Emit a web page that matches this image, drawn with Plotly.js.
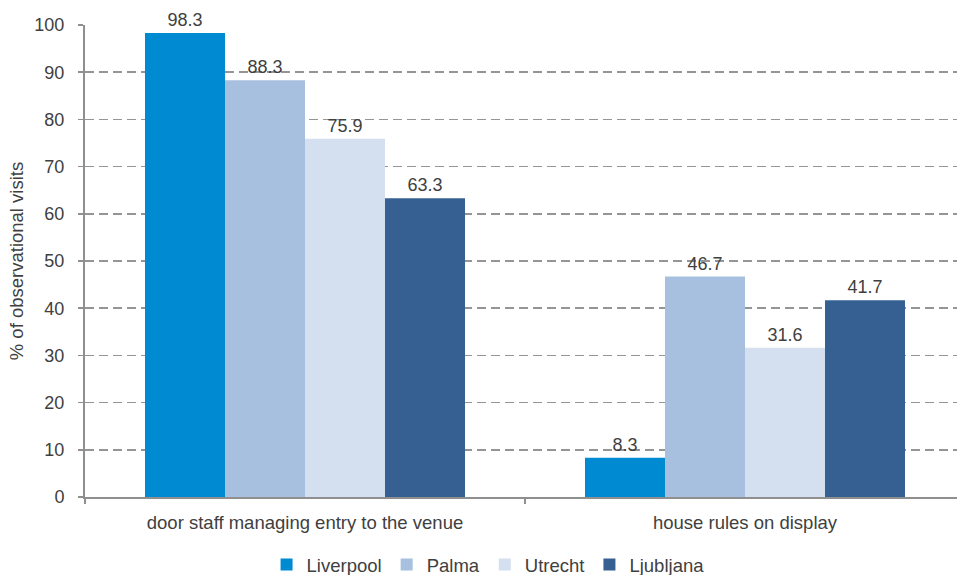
<!DOCTYPE html>
<html>
<head>
<meta charset="utf-8">
<script src="https://cdn.plot.ly/plotly-3.0.1.min.js"></script>
<style>html,body{margin:0;padding:0;background:#fff;}#chart{width:957px;height:575px;}</style>
</head>
<body>
<div id="chart"></div>
<script>
var categories = ["door staff managing entry to the venue", "house rules on display"];
var seriesNames = ["Liverpool", "Palma", "Utrecht", "Ljubljana"];
var liverpool = [98.3, 8.3];
var palma = [88.3, 46.7];
var utrecht = [75.9, 31.6];
var ljubljana = [63.3, 41.7];
var seriesValues = [liverpool, palma, utrecht, ljubljana];
var colors = ["#008AD2", "#A7C0DF", "#D4DFEF", "#366092"];
var yTicks = [0, 10, 20, 30, 40, 50, 60, 70, 80, 90, 100];

var traces = seriesValues.map(function (vals, i) {
  return {
    type: "bar",
    name: seriesNames[i],
    x: categories,
    y: vals,
    marker: { color: colors[i] },
    text: vals.map(function (v) { return v.toFixed(1); }),
    textposition: "outside",
    cliponaxis: false,
    textfont: { family: "Liberation Sans, Arial, sans-serif", size: 18, color: "#404040" },
    hoverinfo: "none"
  };
});

var layout = {
  width: 957,
  height: 575,
  margin: { l: 85, r: 0, t: 25, b: 78, autoexpand: false },
  paper_bgcolor: "#ffffff",
  plot_bgcolor: "#ffffff",
  font: { family: "Liberation Sans, Arial, sans-serif", size: 18, color: "#404040" },
  barmode: "group",
  bargap: 0.2727,
  bargroupgap: 0,
  showlegend: true,
  legend: {
    orientation: "h",
    xref: "container",
    yref: "container",
    x: 0.51,
    xanchor: "center",
    y: 0.0174,
    yanchor: "middle",
    font: { size: 18.5, color: "#404040" },
    itemwidth: 30,
    traceorder: "normal"
  },
  xaxis: {
    type: "category",
    range: [-0.5, 1.4818],
    automargin: false,
    showline: true,
    linecolor: "#8f8f8f",
    linewidth: 2,
    ticks: "outside",
    tickson: "boundaries",
    ticklen: 5,
    tickcolor: "#8f8f8f",
    tickwidth: 1.5,
    showgrid: false,
    zeroline: false,
    ticklabelstandoff: 8,
    tickfont: { size: 18.5, color: "#404040" }
  },
  yaxis: {
    range: [0, 100],
    automargin: false,
    tickvals: yTicks,
    ticktext: yTicks.map(String),
    showline: true,
    linecolor: "#8f8f8f",
    linewidth: 2,
    ticks: "outside",
    ticklen: 5,
    tickcolor: "#8f8f8f",
    tickwidth: 1.5,
    showgrid: true,
    gridcolor: "#959595",
    gridwidth: 1.5,
    griddash: "9px,5px",
    zeroline: false,
    ticklabelstandoff: 10,
    tickfont: { size: 18, color: "#404040" },
    title: { text: "% of observational visits", font: { size: 18.5, color: "#404040" }, standoff: 6 }
  }
};

Plotly.newPlot("chart", traces, layout, { staticPlot: true, displayModeBar: false });
</script>
</body>
</html>
